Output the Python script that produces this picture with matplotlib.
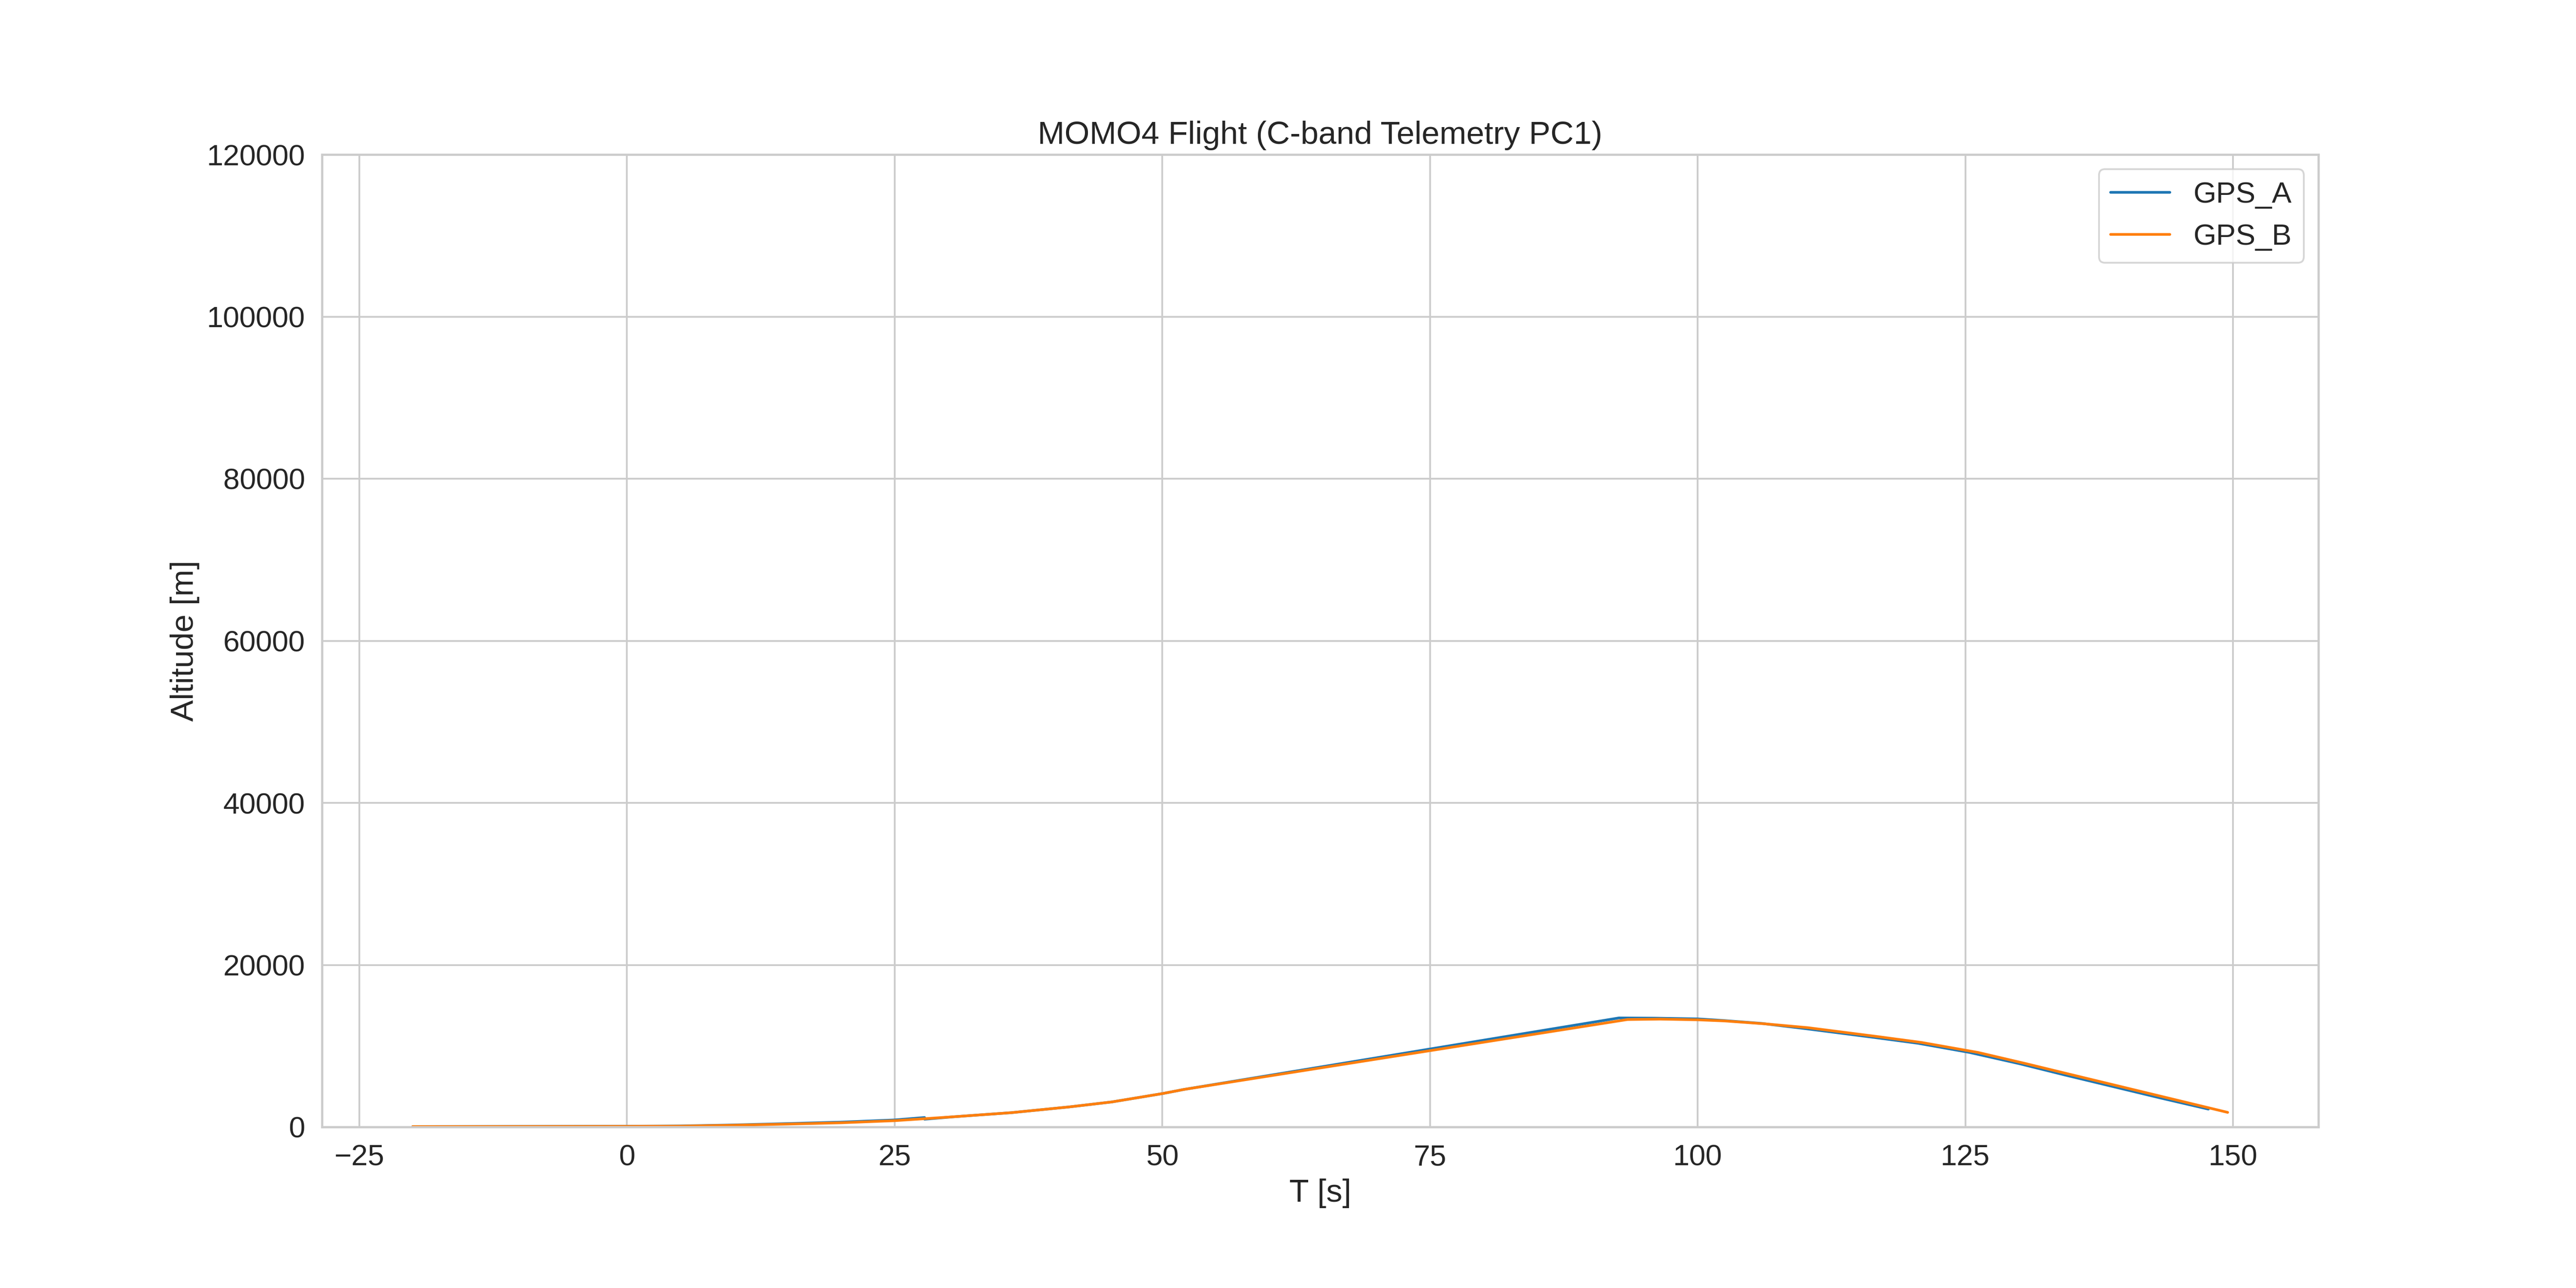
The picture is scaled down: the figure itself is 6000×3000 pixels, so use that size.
#!/usr/bin/python3

import matplotlib
matplotlib.use('Agg')
import matplotlib.pyplot as plt
import seaborn as sns

# GPS_A (blue) - time [s] and altitude [m]
gps_a_t = [-20.0, 0.0, 5.0, 10.0, 15.0, 20.0, 25.0, 27.8, 27.8, 30.6, 35.9,
           41.3, 45.3, 50.0, 51.4, 52.0, 92.65, 96.0, 100.0, 102.3, 106.0,
           110.0, 116.5, 120.6, 125.4, 130.1, 134.3, 143.2, 147.7]
gps_a_alt = [50, 90, 130, 250, 420, 600, 870, 1170, 960, 1270, 1768,
             2476, 3094, 4120, 4474, 4630, 13457, 13430, 13340, 13150, 12780,
             12150, 11050, 10330, 9200, 7800, 6420, 3590, 2210]

# GPS_B (orange)
gps_b_t = [-20.0, 0.0, 5.0, 10.0, 15.0, 20.0, 25.0, 30.6, 35.9, 41.3, 45.3,
           50.0, 51.4, 52.0, 93.45, 96.5, 100.0, 102.5, 106.3, 110.3, 116.9,
           120.9, 126.2, 130.5, 134.8, 149.5]
gps_b_alt = [50, 80, 110, 220, 360, 520, 780, 1270, 1768, 2476, 3094,
             4120, 4474, 4630, 13262, 13315, 13227, 13090, 12730, 12255, 11140,
             10434, 9195, 7867, 6490, 1804]


def altitude_plot():
    sns.set_style('whitegrid')
    sns.set_context('notebook', font_scale=1.5)
    plt.rcParams['font.family'] = ['Liberation Sans', 'DejaVu Sans']

    plt.figure(figsize=(20, 10))
    plt.subplots_adjust(left=0.125, right=0.9, top=0.88, bottom=0.125)

    plt.plot(gps_a_t, gps_a_alt, color='tab:blue', label='GPS_A')
    plt.plot(gps_b_t, gps_b_alt, color='tab:orange', label='GPS_B')

    plt.ylim(0, 120000)
    plt.title('MOMO4 Flight (C-band Telemetry PC1)')
    plt.xlabel('T [s]')
    plt.ylabel('Altitude [m]')
    plt.legend(loc='upper right')
    plt.savefig('out.png', dpi=300)
    plt.clf()


if __name__ == '__main__':
    altitude_plot()
